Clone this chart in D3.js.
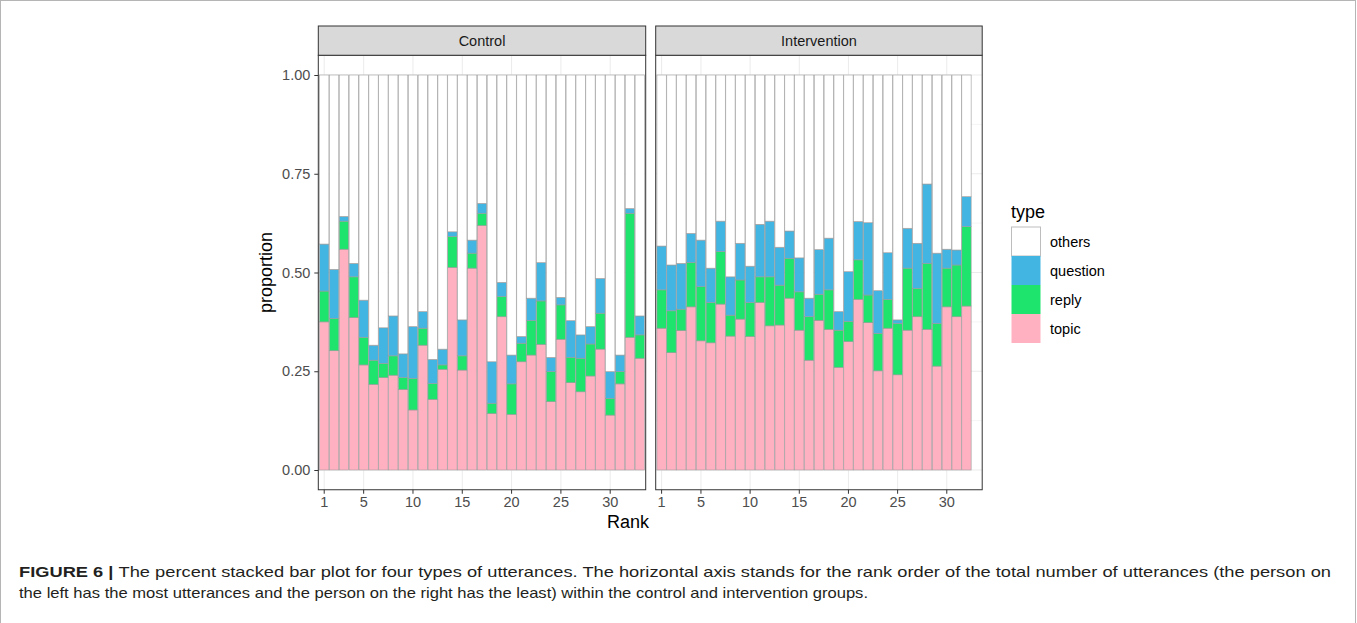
<!DOCTYPE html>
<html><head><meta charset="utf-8">
<script src="https://cdn.jsdelivr.net/npm/d3@7/dist/d3.min.js"></script>
<style>
body{margin:0;background:#fff}
svg{display:block}
text{font-family:"Liberation Sans",Arial,Helvetica,sans-serif}
</style>
</head><body>
<svg id="chart" width="1357" height="623"></svg>
<script>
// ---------------- data ----------------
const rankLevels = d3.range(1, 34);
const panels = ["Control", "Intervention"];
const typeKeys = ["topic", "reply", "question", "others"];
const legendOrder = ["others", "question", "reply", "topic"];
const xTickValues = [1, 5, 10, 15, 20, 25, 30];
const yTickValues = [0, 0.25, 0.5, 0.75, 1];

const controlTopic    = [.375,.302,.559,.386,.266,.217,.234,.240,.204,.152,.316,.179,.255,.513,.253,.511,.619,.143,.388,.141,.274,.291,.318,.173,.331,.221,.198,.238,.306,.139,.218,.336,.283];
const controlReply    = [.078,.082,.071,.103,.070,.061,.036,.049,.030,.080,.043,.040,.011,.078,.036,.038,.031,.026,.051,.077,.047,.087,.110,.076,.087,.064,.085,.081,.091,.042,.031,.314,.059];
const controlQuestion = [.119,.124,.012,.034,.094,.038,.090,.101,.060,.131,.042,.061,.040,.012,.091,.033,.025,.105,.036,.073,.017,.057,.097,.036,.019,.093,.059,.044,.088,.068,.042,.012,.048];

const interventionTopic    = [.359,.297,.353,.413,.327,.322,.420,.339,.382,.338,.424,.365,.367,.435,.354,.278,.379,.356,.260,.325,.432,.373,.251,.359,.241,.354,.388,.356,.263,.413,.388,.415];
const interventionReply    = [.097,.106,.054,.112,.137,.102,.133,.053,.099,.086,.065,.124,.101,.101,.097,.110,.066,.100,.094,.051,.100,.070,.095,.073,.130,.157,.072,.167,.108,.098,.131,.201];
const interventionQuestion = [.111,.116,.116,.074,.118,.087,.077,.097,.093,.092,.133,.141,.096,.069,.086,.047,.113,.131,.047,.126,.097,.183,.108,.118,.009,.101,.114,.201,.178,.048,.038,.076];

const typeColors = {others:"#ffffff", question:"#43b5e3", reply:"#1ee46d", topic:"#ffb1c2"};

function buildRows(t, r, q) {
  return t.map((v, i) => ({rank: i + 1, topic: v, reply: r[i], question: q[i], others: 1 - v - r[i] - q[i]}));
}
const panelRows = {
  Control: buildRows(controlTopic, controlReply, controlQuestion),
  Intervention: buildRows(interventionTopic, interventionReply, interventionQuestion)
};

// ---------------- layout ----------------
const svg = d3.select("#chart");
const panelTop = 55.25, panelBottom = 489.75;
const stripTop = 26;
const panelX = {Control: [318.3, 645.7], Intervention: [655.7, 982.2]};

const y = d3.scaleLinear().domain([-0.05, 1.05]).range([panelBottom, panelTop]);
const stack = d3.stack().keys(typeKeys);

// outer frame
svg.append("rect").attr("x", 0.5).attr("y", 0.5).attr("width", 1355).attr("height", 640)
  .attr("fill", "none").attr("stroke", "#b5b5b5").attr("stroke-width", 1);

panels.forEach((p, pi) => {
  const [x0, x1] = panelX[p];
  const x = d3.scaleBand().domain(rankLevels).range([x0, x1]).paddingInner(0.1).paddingOuter(0.15);
  const g = svg.append("g");

  // panel background
  g.append("rect").attr("x", x0).attr("y", panelTop).attr("width", x1 - x0).attr("height", panelBottom - panelTop).attr("fill", "#fff");

  // grid
  [0.125, 0.375, 0.625, 0.875].forEach(v => g.append("line").attr("x1", x0).attr("x2", x1).attr("y1", y(v)).attr("y2", y(v)).attr("stroke", "#ebebeb").attr("stroke-width", 0.5));
  yTickValues.forEach(v => g.append("line").attr("x1", x0).attr("x2", x1).attr("y1", y(v)).attr("y2", y(v)).attr("stroke", "#ebebeb").attr("stroke-width", 1));
  xTickValues.forEach(v => {
    const cx = x(v) + x.bandwidth() / 2;
    g.append("line").attr("x1", cx).attr("x2", cx).attr("y1", panelTop).attr("y2", panelBottom).attr("stroke", "#ebebeb").attr("stroke-width", 1);
  });

  // bars
  const series = stack(panelRows[p]);
  const bw = x.step() * 0.95;
  series.forEach(s => {
    g.append("g").selectAll("rect").data(s).join("rect")
      .attr("x", d => x(d.data.rank) + x.bandwidth() / 2 - bw / 2)
      .attr("width", bw)
      .attr("y", d => y(d[1]))
      .attr("height", d => y(d[0]) - y(d[1]))
      .attr("fill", typeColors[s.key])
      .attr("stroke", "#9b9b9b").attr("stroke-width", 0.6);
  });

  // panel border
  g.append("rect").attr("x", x0).attr("y", panelTop).attr("width", x1 - x0).attr("height", panelBottom - panelTop)
    .attr("fill", "none").attr("stroke", "#333").attr("stroke-width", 1);

  // strip
  g.append("rect").attr("x", x0).attr("y", stripTop).attr("width", x1 - x0).attr("height", panelTop - stripTop)
    .attr("fill", "#d9d9d9").attr("stroke", "#333").attr("stroke-width", 1);
  g.append("text").attr("x", (x0 + x1) / 2).attr("y", (stripTop + panelTop) / 2 + 5).attr("text-anchor", "middle")
    .attr("font-size", 14.5).attr("fill", "#1a1a1a").text(p);

  // x axis
  const xa = svg.append("g").attr("transform", `translate(0,${panelBottom})`)
    .call(d3.axisBottom(x).tickValues(xTickValues).tickSize(4).tickPadding(3));
  xa.select(".domain").remove();
  xa.selectAll(".tick line").attr("stroke", "#333").attr("stroke-width", 1);
  xa.selectAll(".tick text").attr("font-size", 14.5).attr("fill", "#4d4d4d").attr("font-family", "Liberation Sans, Arial, sans-serif");

  if (pi === 0) {
    const ya = svg.append("g").attr("transform", `translate(${x0},0)`)
      .call(d3.axisLeft(y).tickValues(yTickValues).tickFormat(d3.format(".2f")).tickSize(4).tickPadding(4));
    ya.select(".domain").remove();
    ya.selectAll(".tick line").attr("stroke", "#333").attr("stroke-width", 1);
    ya.selectAll(".tick text").attr("font-size", 14.5).attr("fill", "#4d4d4d").attr("font-family", "Liberation Sans, Arial, sans-serif");
  }
});

// axis titles
svg.append("text").attr("transform", `translate(272,${(panelTop + panelBottom) / 2}) rotate(-90)`)
  .attr("text-anchor", "middle").attr("font-size", 18).attr("fill", "#000").text("proportion");
svg.append("text").attr("x", 628).attr("y", 528).attr("text-anchor", "middle")
  .attr("font-size", 18).attr("fill", "#000").text("Rank");

// legend
const lg = svg.append("g");
lg.append("text").attr("x", 1011).attr("y", 218).attr("font-size", 18).attr("fill", "#000").text("type");
legendOrder.forEach((k, i) => {
  const ky = 227 + i * 29;
  lg.append("rect").attr("x", 1011.5).attr("y", ky).attr("width", 29).attr("height", 29)
    .attr("fill", typeColors[k]).attr("stroke", k === "others" ? "#bdbdbd" : "none").attr("stroke-width", 1);
  lg.append("text").attr("x", 1050).attr("y", ky + 14.5 + 5).attr("font-size", 14.5).attr("fill", "#000").text(k);
});

// caption
const cap1 = svg.append("text").attr("x", 19).attr("y", 577).attr("font-size", 15)
  .attr("font-family", "'Liberation Sans Narrow','DejaVu Sans Condensed','Liberation Sans',sans-serif")
  .attr("textLength", 1312).attr("lengthAdjust", "spacingAndGlyphs").attr("fill", "#231f20");
cap1.append("tspan").attr("font-weight", "bold").text("FIGURE 6 | ");
cap1.append("tspan").text("The percent stacked bar plot for four types of utterances. The horizontal axis stands for the rank order of the total number of utterances (the person on");
svg.append("text").attr("x", 19).attr("y", 598).attr("font-size", 15)
  .attr("font-family", "'Liberation Sans Narrow','DejaVu Sans Condensed','Liberation Sans',sans-serif")
  .attr("textLength", 849).attr("lengthAdjust", "spacingAndGlyphs").attr("fill", "#231f20")
  .text("the left has the most utterances and the person on the right has the least) within the control and intervention groups.");
</script>
</body></html>
